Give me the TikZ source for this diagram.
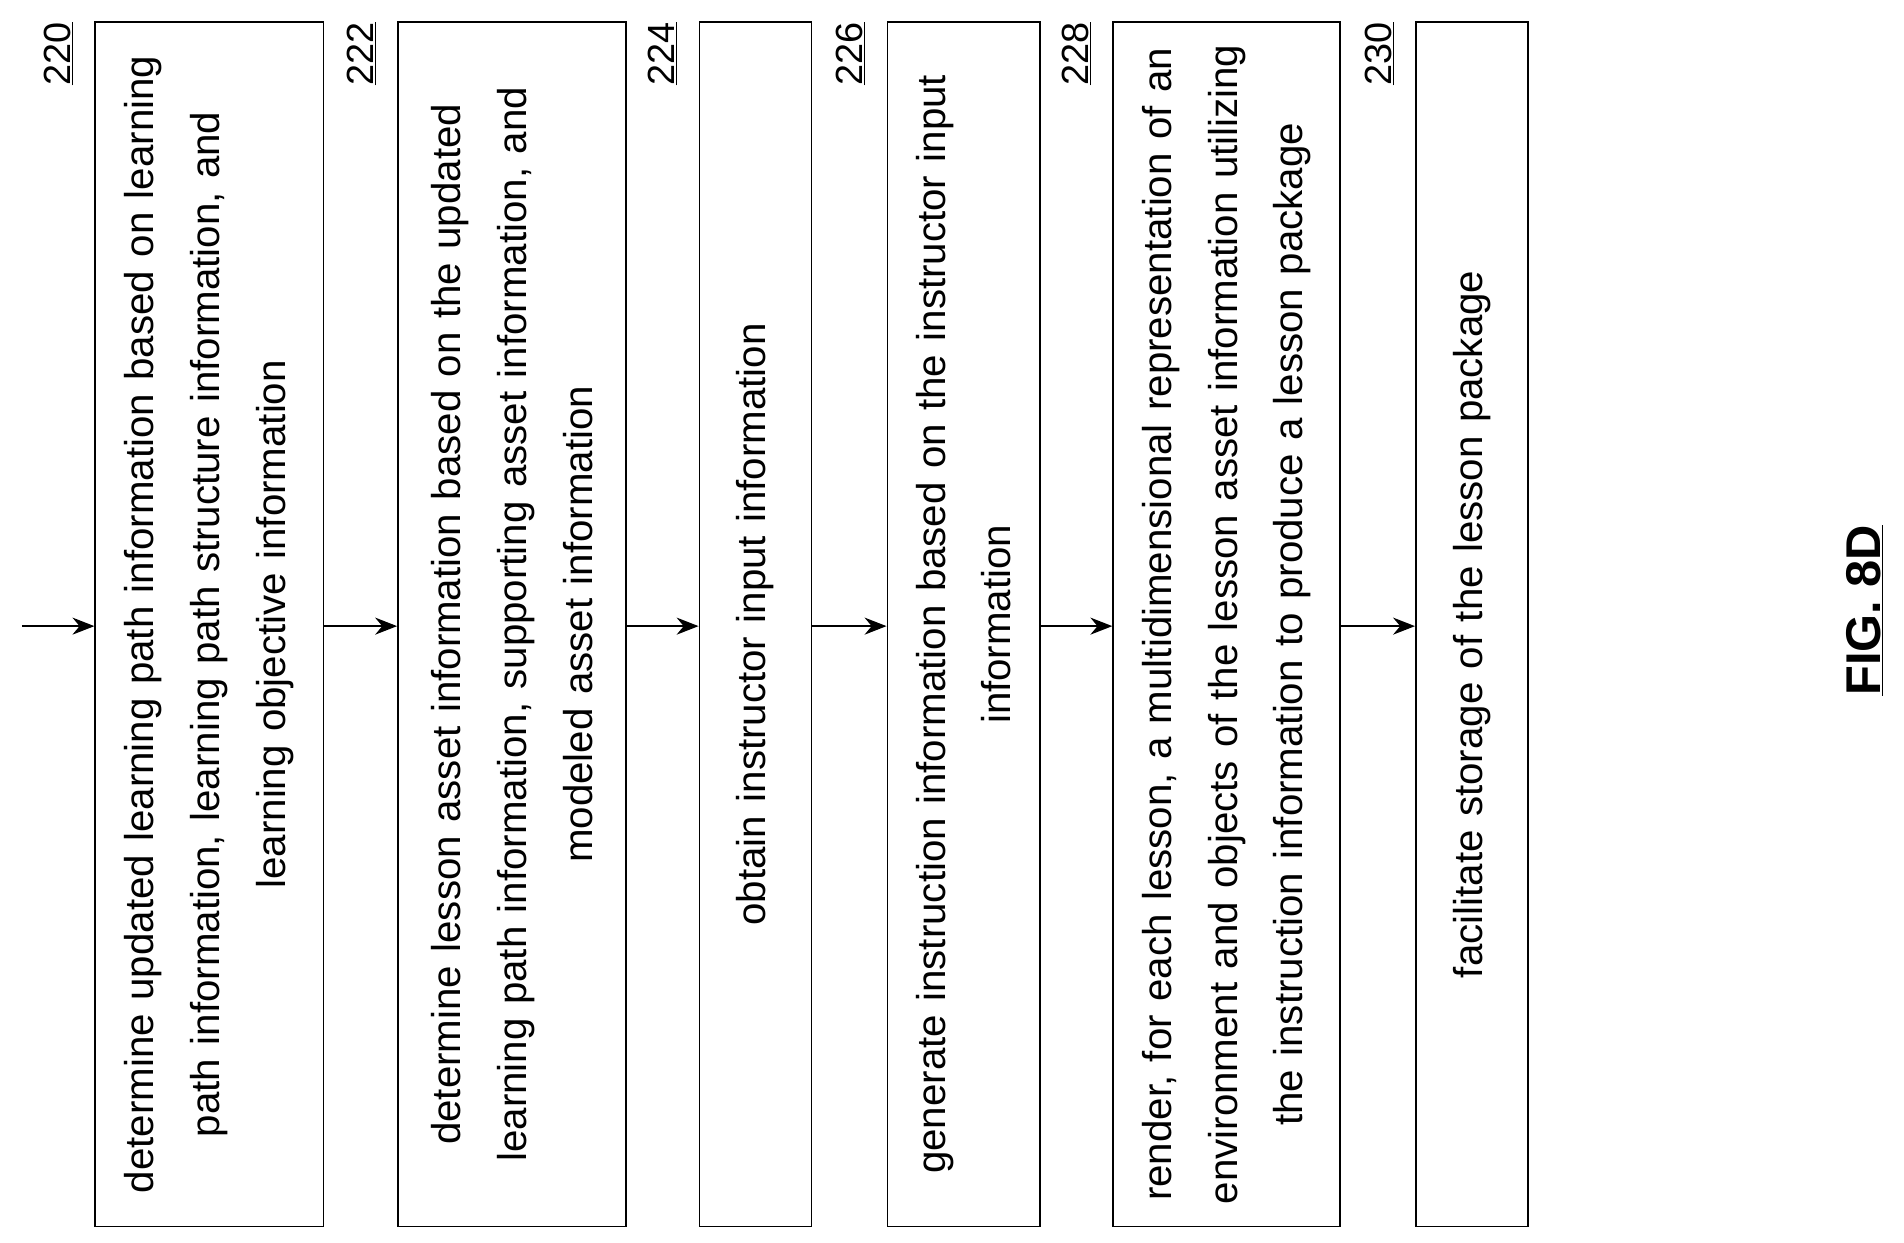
\documentclass[tikz,border=0pt]{standalone}
\usepackage{fontspec}
\setmainfont{Liberation Sans}
\usetikzlibrary{arrows.meta,positioning}

\begin{document}
\begin{tikzpicture}[
      x=1pt, y=-1pt,
      stepbox/.style={draw, line width=1.3pt, rotate=90, align=center, inner sep=0,
        minimum width=987pt, text width=975pt,
        font={\fontsize{33}{54}\selectfont}},
      ref/.style={rotate=90, anchor=east, inner sep=0, font={\fontsize{31}{36}\selectfont}},
      flow/.style={draw, line width=1.1pt, -{Stealth[length=18pt,width=14pt]}}
  ]
  \useasboundingbox (0,0) rectangle (1560,1018);
  % process steps
  \node[stepbox, minimum height=187pt] (s220) at (171.5,511.5)
    {determine updated learning path information based on learning\\ path information, learning path structure information, and\\ learning objective information};
  \node[stepbox, minimum height=187pt] (s222) at (419.5,511.5)
    {determine lesson asset information based on the updated\\ learning path information, supporting asset information, and\\ modeled asset information};
  \node[stepbox, minimum height=92pt] (s224) at (619,511.5)
    {obtain instructor input information};
  \node[stepbox, minimum height=125pt] (s226) at (789.5,511.5)
    {generate instruction information based on the instructor input\\ information};
  \node[stepbox, minimum height=186pt] (s228) at (1005,511.5)
    {render, for each lesson, a multidimensional representation of an\\ environment and objects of the lesson asset information utilizing\\ the instruction information to produce a lesson package};
  \node[stepbox, minimum height=92pt] (s230) at (1206,511.5)
    {facilitate storage of the lesson package};
  % reference numerals
  \node[ref] (n220) at (48,18) {\underline{220}};
  \node[ref] (n222) at (296,18) {\underline{222}};
  \node[ref] (n224) at (543,18) {\underline{224}};
  \node[ref] (n226) at (697,18) {\underline{226}};
  \node[ref] (n228) at (882,18) {\underline{228}};
  \node[ref] (n230) at (1130,18) {\underline{230}};
  % connectors
  \coordinate (start) at (18,513);
  \draw[flow] (start) -- (start -| s220.north);
  \draw[flow] (s220.south |- start) -- (s222.north |- start);
  \draw[flow] (s222.south |- start) -- (s224.north |- start);
  \draw[flow] (s224.south |- start) -- (s226.north |- start);
  \draw[flow] (s226.south |- start) -- (s228.north |- start);
  \draw[flow] (s228.south |- start) -- (s230.north |- start);
  \node[rotate=90, font={\bfseries\fontsize{40}{44}\selectfont}] (fig) at (1528,500) {\underline{FIG. 8D}};
\end{tikzpicture}
\end{document}
